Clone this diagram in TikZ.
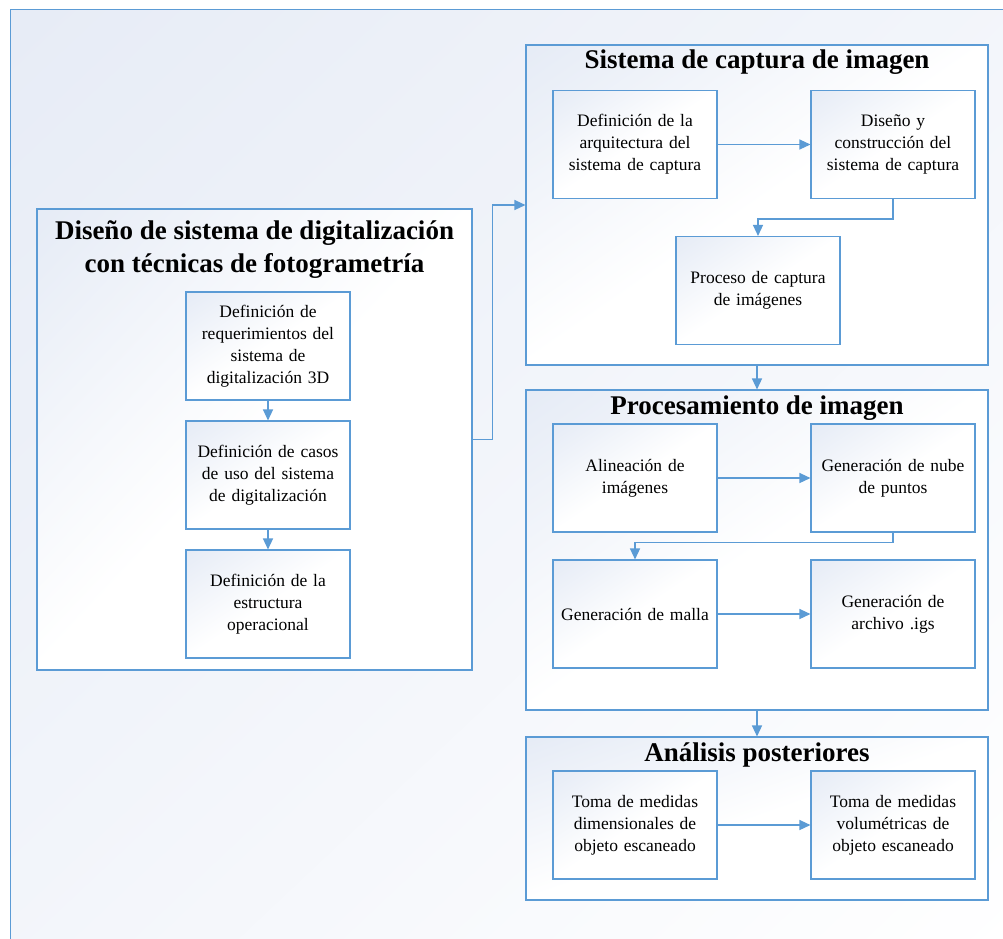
\documentclass[tikz,border=0pt]{standalone}
\usepackage{fontspec}
\setmainfont{Liberation Serif}
\usetikzlibrary{arrows.meta}
\definecolor{ln}{HTML}{5B9BD5}
\pgfdeclarefunctionalshading{diagbox}{\pgfpoint{0bp}{0bp}}{\pgfpoint{100bp}{100bp}}{}{
  exch sub 55 div dup 0 lt {pop 0} if dup 1 gt {pop 1} if
  dup 0.110 mul 1 exch sub
  exch dup 0.085 mul 1 exch sub
  exch 0.040 mul 1 exch sub
}
\pgfdeclarefunctionalshading{diagfull}{\pgfpoint{0bp}{0bp}}{\pgfpoint{100bp}{100bp}}{}{
  exch sub 50 add 100 div dup 0 lt {pop 0} if dup 1 gt {pop 1} if
  dup 0.095 mul 1 exch sub
  exch dup 0.075 mul 1 exch sub
  exch 0.035 mul 1 exch sub
}
\begin{document}
\begin{tikzpicture}[x=1pt,y=1pt,
  frame/.style={draw=ln, line width=1.1pt, shading=diagbox, rectangle, inner sep=0pt},
  stepbox/.style={frame, minimum width=164pt, minimum height=108pt, align=center, text width=152pt, font=\fontsize{17.5}{22}\selectfont},
  grp/.style={frame},
  ttl/.style={font=\fontsize{27}{33}\bfseries\selectfont, align=center},
  conn/.style={draw=ln, line width=1.3pt, -{Triangle[length=11pt,width=10pt]}}]
\useasboundingbox (0,0) rectangle (1003,-938);
\node[frame, shading=diagfull, minimum width=1000pt, minimum height=940pt, anchor=north west] (outer) at (10,-9) {};
% left group
\node[grp, minimum width=435pt, minimum height=461pt] (left) at (254.5,-439.5) {};
\node[ttl] (tleft) at (254.5,-250) {Diseño de sistema de digitalización\\con técnicas de fotogrametría};
\node[stepbox] (b1) at (268,-346) {Definición de\\requerimientos del\\sistema de\\digitalización 3D};
\node[stepbox] (b2) at (268,-475) {Definición de casos\\de uso del sistema\\de digitalización};
\node[stepbox] (b3) at (268,-604) {Definición de la\\estructura\\operacional};
% capture group
\node[grp, minimum width=462pt, minimum height=320pt] (sis) at (757,-205) {};
\node[ttl] (tsis) at (757,-62) {Sistema de captura de imagen};
\node[stepbox] (a1) at (635,-144.5) {Definición de la\\arquitectura del\\sistema de captura};
\node[stepbox] (a2) at (893,-144.5) {Diseño y\\construcción del\\sistema de captura};
\node[stepbox] (a3) at (758,-290.5) {Proceso de captura\\de imágenes};
% processing group
\node[grp, minimum width=462pt, minimum height=320pt] (proc) at (757,-550) {};
\node[ttl] (tproc) at (757,-408) {Procesamiento de imagen};
\node[stepbox] (p1) at (635,-478) {Alineación de\\imágenes};
\node[stepbox] (p2) at (893,-478) {Generación de nube\\de puntos};
\node[stepbox] (p3) at (635,-614) {Generación de malla};
\node[stepbox] (p4) at (893,-614) {Generación de\\archivo .igs};
% analysis group
\node[grp, minimum width=462pt, minimum height=163pt] (ana) at (757,-818.5) {};
\node[ttl] (tana) at (757,-755) {Análisis posteriores};
\node[stepbox] (q1) at (635,-825) {Toma de medidas\\dimensionales de\\objeto escaneado};
\node[stepbox] (q2) at (893,-825) {Toma de medidas\\volumétricas de\\objeto escaneado};
% connectors
\draw[conn] (b1) -- (b2);
\draw[conn] (b2) -- (b3);
\draw[conn] (left.east) -- ++(20,0) |- (sis.west);
\draw[conn] (a1) -- (a2);
\draw[conn] (a2.south) -- ++(0,-20) -| (a3.north);
\draw[conn] (sis.south) -- (proc.north);
\draw[conn] (p1) -- (p2);
\draw[conn] (p2.south) -- ++(0,-10) -| (p3.north);
\draw[conn] (p3) -- (p4);
\draw[conn] (proc.south) -- (ana.north);
\draw[conn] (q1) -- (q2);
\end{tikzpicture}
\end{document}
